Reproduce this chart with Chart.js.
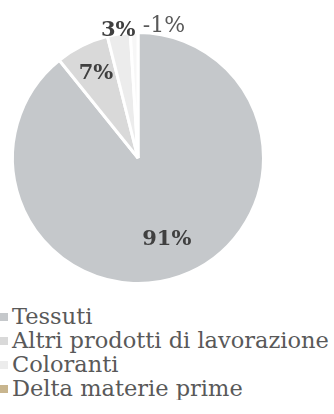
<!DOCTYPE html>
<html>
<head>
<meta charset="utf-8">
<script src="https://cdn.jsdelivr.net/npm/chart.js@4/dist/chart.umd.min.js"></script>
<style>
  html, body { margin: 0; padding: 0; background: #fff; }
  #wrap { position: relative; width: 334px; height: 300px; }
  #legend { margin: 0; padding: 4px 0 0 0; list-style: none; font-family: "DejaVu Serif", serif; font-size: 22.5px; color: #595959; }
  #legend li { height: 24px; line-height: 24px; white-space: nowrap; }
  #legend span { display: inline-block; width: 8px; height: 8px; margin-right: 4px; vertical-align: middle; position: relative; top: -1px; }
</style>
</head>
<body>
<div id="wrap"><canvas id="canvas"></canvas></div>
<ul id="legend"></ul>
<script>
// data
var categories = ["Tessuti", "Altri prodotti di lavorazione", "Coloranti", "Delta materie prime"];
var shares = [91, 7, 3, -1];
var sliceColors = ["#c5c8cb", "#d9d9d9", "#ececec", "#f7f7f7"];
var legendColors = ["#c5c8cb", "#d9d9d9", "#ececec", "#c8b58e"];

// where each label sits: fraction of radius, and a nudge in px
var labelPos = [
    {r: 0.69, dx: 0, dy: 0, bold: true},
    {r: 0.75, dx: 0, dy: 0, bold: true},
    {r: 1.03, dx: 0, dy: 0, bold: true},
    {r: 1.05, dx: 30, dy: 0, bold: false}
];

var sliceLabels = {
    id: "sliceLabels",
    afterDatasetsDraw: function(chart) {
        var ctx = chart.ctx;
        var meta = chart.getDatasetMeta(0);
        ctx.save();
        ctx.textAlign = "center";
        ctx.textBaseline = "middle";
        meta.data.forEach(function(arc, i) {
            var p = arc.getProps(["x", "y", "startAngle", "endAngle", "outerRadius"], true);
            var mid = (p.startAngle + p.endAngle) / 2;
            var lp = labelPos[i];
            var x = p.x + Math.cos(mid) * p.outerRadius * lp.r + lp.dx;
            var y = p.y + Math.sin(mid) * p.outerRadius * lp.r + lp.dy;
            ctx.font = (lp.bold ? "bold 21px" : "22px") + " 'DejaVu Serif', serif";
            ctx.fillStyle = lp.bold ? "#404040" : "#595959";
            ctx.fillText(shares[i] + "%", x, y);
        });
        ctx.restore();
    }
};

var chart = new Chart(document.getElementById("canvas"), {
    type: "pie",
    data: {
        labels: categories,
        datasets: [{
            data: shares,
            backgroundColor: sliceColors,
            borderColor: "#ffffff",
            borderWidth: 3
        }]
    },
    options: {
        responsive: true,
        maintainAspectRatio: false,
        animation: false,
        layout: { padding: { left: 11, right: 69, top: 31, bottom: 15 } },
        plugins: {
            legend: { display: false },
            tooltip: { enabled: false }
        }
    },
    plugins: [sliceLabels]
});

var legend = document.getElementById("legend");
categories.forEach(function(name, i) {
    var li = document.createElement("li");
    var box = document.createElement("span");
    box.style.background = legendColors[i];
    li.appendChild(box);
    li.appendChild(document.createTextNode(name));
    legend.appendChild(li);
});
</script>
</body>
</html>
